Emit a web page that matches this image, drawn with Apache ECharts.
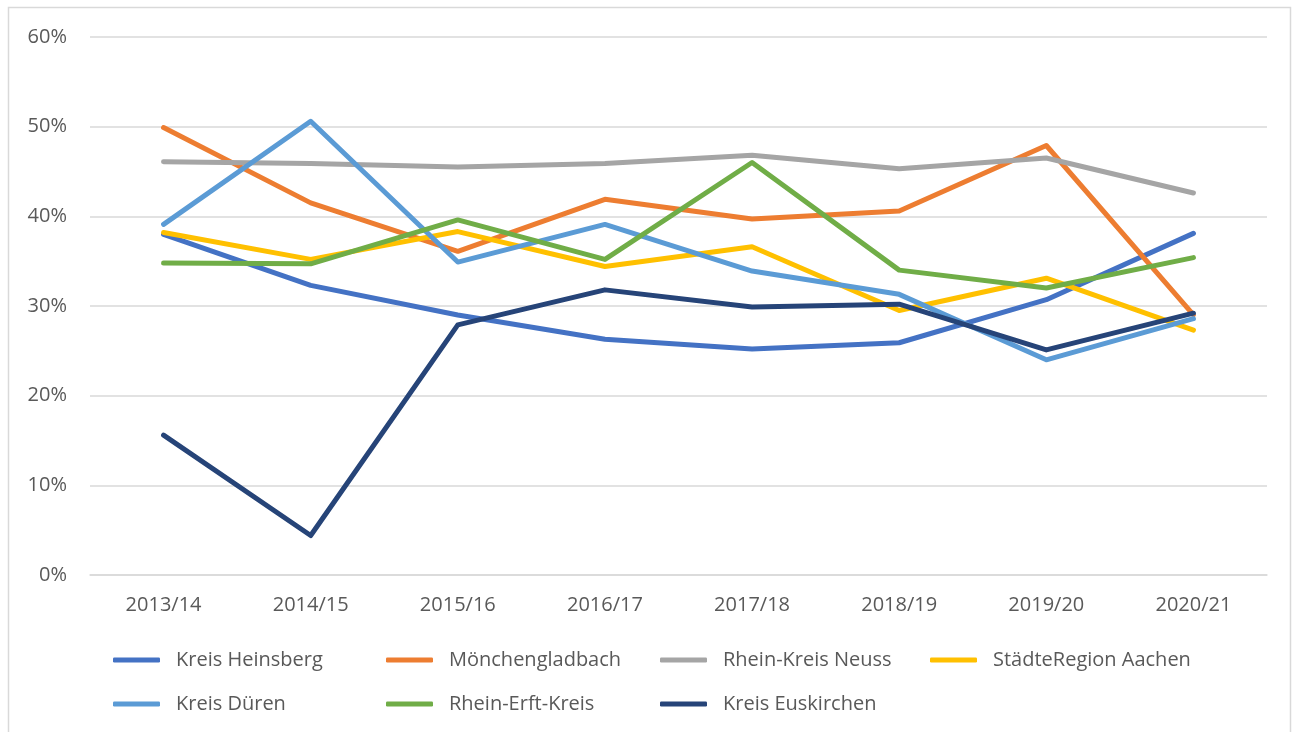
<!DOCTYPE html>
<html>
<head>
<meta charset="utf-8">
<script src="https://cdn.jsdelivr.net/npm/echarts@6/dist/echarts.min.js"></script>
<style>
  html, body { margin: 0; padding: 0; background: #fff; }
  #chart { width: 1300px; height: 732px; }
</style>
</head>
<body>
<div id="chart"></div>
<script>
// Schuljahre
const years = ['2013/14', '2014/15', '2015/16', '2016/17', '2017/18', '2018/19', '2019/20', '2020/21'];

// Anteile in %
const heinsberg = [38.0, 32.3, 29.0, 26.3, 25.2, 25.9, 30.7, 38.1];
const moenchengladbach = [49.9, 41.5, 36.1, 41.9, 39.7, 40.6, 47.9, 29.0];
const neuss = [46.1, 45.9, 45.5, 45.9, 46.8, 45.3, 46.5, 42.6];
const aachen = [38.2, 35.2, 38.3, 34.4, 36.6, 29.5, 33.1, 27.3];
const dueren = [39.1, 50.6, 34.9, 39.1, 33.9, 31.3, 24.0, 28.6];
const rheinErft = [34.8, 34.7, 39.6, 35.2, 46.0, 34.0, 32.0, 35.4];
const euskirchen = [15.6, 4.4, 27.9, 31.8, 29.9, 30.2, 25.1, 29.2];

const seriesNames = ['Kreis Heinsberg', 'Mönchengladbach', 'Rhein-Kreis Neuss', 'StädteRegion Aachen',
  'Kreis Düren', 'Rhein-Erft-Kreis', 'Kreis Euskirchen'];
const seriesData = [heinsberg, moenchengladbach, neuss, aachen, dueren, rheinErft, euskirchen];
const colors = ['#4472C4', '#ED7D31', '#A5A5A5', '#FFC000', '#5B9BD5', '#70AD47', '#264478'];

const textColor = '#595959';
const font = '"Open Sans", "Liberation Sans", sans-serif';

// legend slots (Excel puts them in fixed columns)
const legendPos = [
  [113, 650], [386, 650], [660, 650], [930, 650],
  [113, 694], [386, 694], [660, 694]
];

let myChart = echarts.init(document.getElementById('chart'));

let option = {
  animation: false,
  color: colors,
  grid: { left: 90, right: 33, top: 37, bottom: 157, containLabel: false },
  graphic: [{
    type: 'rect',
    shape: { x: 8.5, y: 7.5, width: 1282, height: 740 },
    style: { fill: 'none', stroke: '#d9d9d9', lineWidth: 1.5 },
    silent: true
  }],
  legend: seriesNames.map((n, i) => ({
    data: [n],
    left: legendPos[i][0],
    top: legendPos[i][1],
    padding: 0,
    itemWidth: 47,
    itemHeight: 5,
    icon: 'roundRect',
    itemGap: 0,
    textStyle: { color: textColor, fontSize: 20, fontFamily: font, padding: [0, 0, 0, 11] }
  })),
  xAxis: {
    type: 'category',
    data: years,
    boundaryGap: true,
    axisLine: { show: true, lineStyle: { color: '#d9d9d9', width: 1.5 } },
    axisTick: { show: false },
    axisLabel: { color: textColor, fontSize: 20, fontFamily: font, margin: 20 }
  },
  yAxis: {
    type: 'value',
    min: 0,
    max: 60,
    interval: 10,
    axisLine: { show: false },
    axisTick: { show: false },
    axisLabel: { formatter: '{value}%', color: textColor, fontSize: 20, fontFamily: font, margin: 23 },
    splitLine: { lineStyle: { color: '#d9d9d9', width: 1.5 } }
  },
  series: seriesNames.map((n, i) => ({
    name: n,
    type: 'line',
    data: seriesData[i],
    showSymbol: false,
    symbol: 'none',
    lineStyle: { width: 5, color: colors[i], cap: 'round', join: 'round' },
    itemStyle: { color: colors[i] },
    z: 2 + i
  }))
};

myChart.setOption(option);
</script>
</body>
</html>
